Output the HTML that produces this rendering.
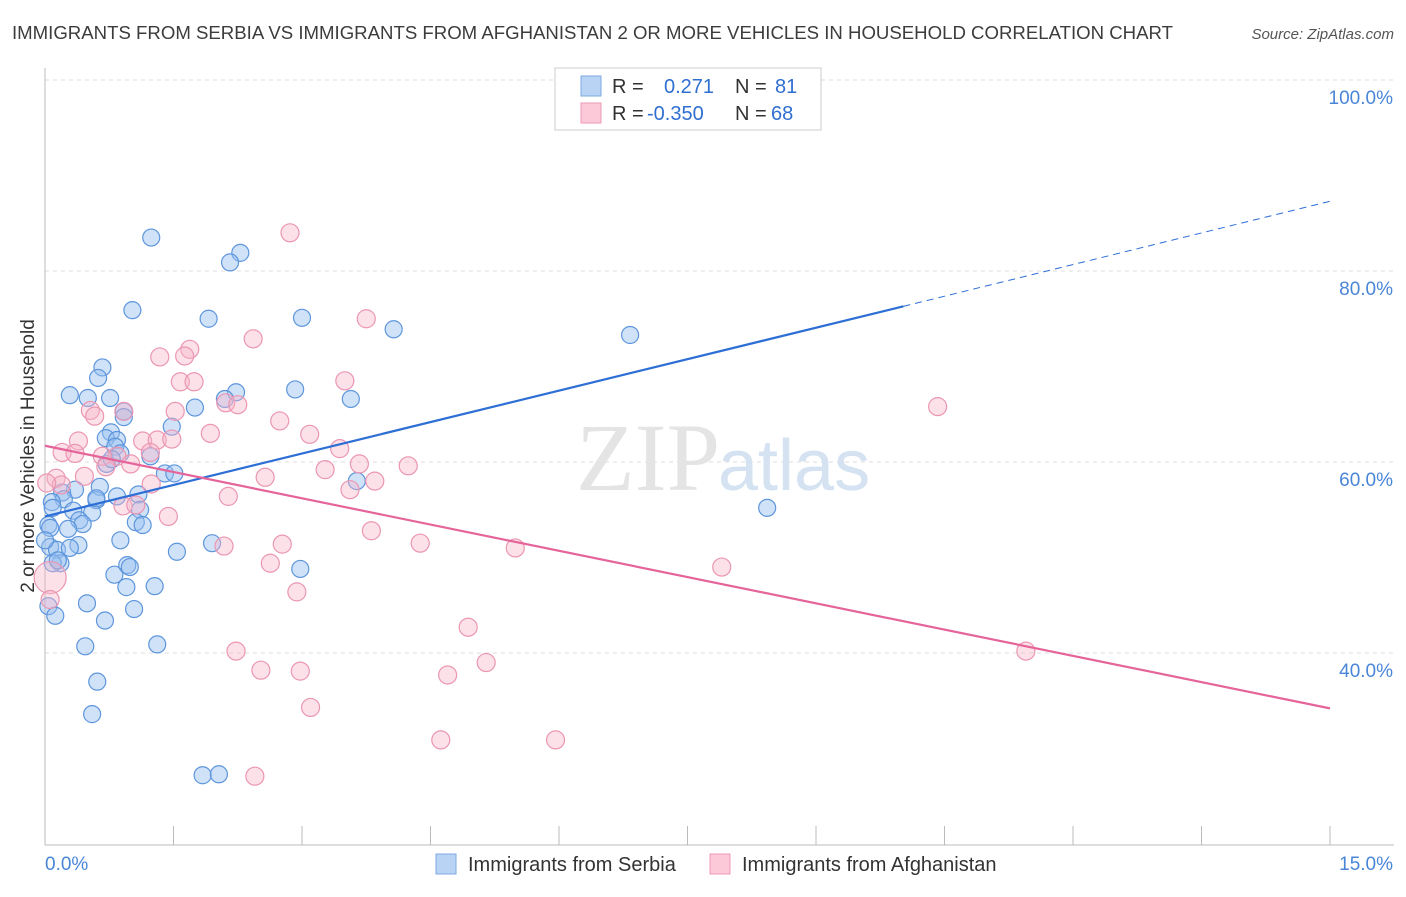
<!DOCTYPE html>
<html><head><meta charset="utf-8"><style>
body{margin:0;background:#fff;width:1406px;height:892px;overflow:hidden;font-family:"Liberation Sans",sans-serif}
</style></head><body>
<svg width="1406" height="892" viewBox="0 0 1406 892" xmlns="http://www.w3.org/2000/svg">
<text x="12" y="39" font-size="18" fill="#3c3c3c" textLength="1161" lengthAdjust="spacingAndGlyphs">IMMIGRANTS FROM SERBIA VS IMMIGRANTS FROM AFGHANISTAN 2 OR MORE VEHICLES IN HOUSEHOLD CORRELATION CHART</text>
<text x="1394" y="39" font-size="15" fill="#555" font-style="italic" text-anchor="end">Source: ZipAtlas.com</text>
<g id="grid"></g>
<text x="720" y="490" font-size="96" fill="#e4e4e4" text-anchor="end" font-family="Liberation Serif,serif">ZIP</text>
<text x="718" y="490" font-size="72" fill="#d4e2f2">atlas</text>
<g id="axes"></g>
<g id="marks"></g>
<g>
<rect x="555" y="68" width="266" height="62" fill="#fff" stroke="#ccc"/>
<rect x="581" y="76" width="20" height="20" fill="#b9d3f5" stroke="#7fa9e0"/>
<rect x="581" y="103" width="20" height="20" fill="#fbc9d7" stroke="#ee9ab4"/>
<text x="612" y="93" font-size="20" fill="#333">R = </text><text x="664" y="93" font-size="20" fill="#2f6fd0">0.271</text>
<text x="735" y="93" font-size="20" fill="#333">N = </text><text x="775" y="93" font-size="20" fill="#2f6fd0">81</text>
<text x="612" y="120" font-size="20" fill="#333">R = </text><text x="647" y="120" font-size="20" fill="#2f6fd0">-0.350</text>
<text x="735" y="120" font-size="20" fill="#333">N = </text><text x="771" y="120" font-size="20" fill="#2f6fd0">68</text>
</g>
<g>
<rect x="436" y="854" width="20" height="20" fill="#b9d3f5" stroke="#7fa9e0"/>
<text x="468" y="871" font-size="20" fill="#333">Immigrants from Serbia</text>
<rect x="710" y="854" width="20" height="20" fill="#fbc9d7" stroke="#ee9ab4"/>
<text x="742" y="871" font-size="20" fill="#333">Immigrants from Afghanistan</text>
</g>
</svg>
<script>
const NS="http://www.w3.org/2000/svg";
const yTicks=[100,80,60,40];
const yTickLabels=["100.0%","80.0%","60.0%","40.0%"];
const xTicks=[0,1.5,3,4.5,6,7.5,9,10.5,12,13.5,15];
const serbiaX=[1.24,2.28,2.16,1.02,1.91,3.00,4.07,6.83,0.67,0.62,0.29,0.50,0.76,2.23,2.92,2.10,3.57,1.75,0.92,0.92,1.48,0.77,0.71,0.84,0.82,0.88,1.23,0.72,1.40,1.51,3.64,0.64,0.35,0.20,0.22,0.60,0.08,0.84,1.09,0.09,0.33,0.55,1.11,0.40,0.44,1.06,1.14,0.27,0.04,0.88,1.95,0.39,0.06,1.54,0.14,0.29,0.18,0.96,0.99,0.81,2.98,0.95,1.28,0.49,1.04,0.04,0.12,0.70,0.47,1.31,0.61,0.55,1.84,2.03,8.43,0.06,0.09,0.60,0.15,0.78,0.00];
const serbiaY=[83.5,81.9,80.9,75.9,75.0,75.1,73.9,73.3,69.9,68.8,67.0,66.7,66.7,67.3,67.6,66.6,66.6,65.7,65.3,64.7,63.7,63.1,62.5,62.3,61.6,60.9,60.6,59.8,58.8,58.8,58.0,57.4,57.1,56.8,56.1,56.0,55.8,56.4,56.6,55.2,54.9,54.7,55.0,53.9,53.5,53.7,53.4,53.0,53.4,51.8,51.5,51.3,51.1,50.6,50.8,51.0,49.4,49.2,49.0,48.2,48.8,46.9,47.0,45.2,44.6,44.9,43.9,43.4,40.7,40.9,37.0,33.6,27.2,27.3,55.2,53.1,49.4,56.2,49.7,60.3,51.8];
const afghX=[2.86,3.75,2.43,1.69,1.34,1.63,3.50,1.58,1.74,2.11,1.52,2.25,0.53,0.92,0.58,2.74,1.93,3.09,0.39,1.14,1.31,1.48,0.20,0.35,0.84,0.67,1.23,3.44,4.24,3.67,0.71,1.00,3.27,0.13,0.46,0.19,1.24,3.85,2.57,3.56,2.14,0.91,1.06,1.44,3.81,4.38,2.77,2.09,5.49,2.63,7.90,2.94,4.94,2.23,11.45,5.15,2.52,2.98,4.70,3.10,4.62,5.96,2.45,10.42,0.06,0.02,0.06];
const afghY=[84.0,75.0,72.9,71.8,71.0,71.1,68.5,68.4,68.4,66.2,65.3,66.0,65.4,65.3,64.8,64.3,63.0,62.9,62.2,62.2,62.3,62.4,61.0,60.9,60.6,60.6,61.0,61.4,59.6,59.8,59.5,59.8,59.2,58.3,58.5,57.6,57.7,58.0,58.4,57.1,56.4,55.4,55.5,54.3,52.8,51.5,51.4,51.2,51.0,49.4,49.0,46.4,42.7,40.2,40.2,39.0,38.2,38.1,37.7,34.3,30.9,30.9,27.1,65.8,47.9,57.8,45.6];
const afghR=[9,9,9,9,9,9,9,9,9,9,9,9,9,9,9,9,9,9,9,9,9,9,9,9,9,9,9,9,9,9,9,9,9,9,9,9,9,9,9,9,9,9,9,9,9,9,9,9,9,9,9,9,9,9,9,9,9,9,9,9,9,9,9,9,16,9,9];
const serbiaTrend=[54.3,76.3,87.3];
const serbiaTrendX=[0,10.02,15];
const afghTrend=[61.7,34.2];
const afghTrendX=[0,15];
const X=v=>45+v*(1285/15);
const Y=v=>80+(100-v)*9.55;
function mk(tag,attrs,parent){const e=document.createElementNS(NS,tag);for(const k in attrs)e.setAttribute(k,attrs[k]);document.getElementById(parent).appendChild(e);return e;}
yTicks.forEach((t,i)=>{
 const l=mk('line',{x1:45,x2:1394,y1:Y(t),y2:Y(t),stroke:'#ddd','stroke-dasharray':'4,4'},'grid');
 
 
 const tx=mk('text',{x:1393,y:Y(t)+24,'font-size':19,fill:'#4a86d8','text-anchor':'end'},'axes');
 tx.textContent=yTickLabels[i];
 
 
});
const ax=mk('line',{x1:45,x2:45,y1:68,y2:845,stroke:'#bbb'},'axes');


const bx=mk('line',{x1:45,x2:1394,y1:845,y2:845,stroke:'#bbb'},'axes');


xTicks.forEach(t=>{const l=mk('line',{x1:X(t),x2:X(t),y1:826,y2:845,stroke:'#bbb'},'axes');
 
 });
const x0=mk('text',{x:45,y:870,'font-size':19,fill:'#4a86d8'},'axes');x0.textContent='0.0%';


const x1=mk('text',{x:1393,y:870,'font-size':19,fill:'#4a86d8','text-anchor':'end'},'axes');x1.textContent='15.0%';


const yt=mk('text',{x:0,y:0,'font-size':19,fill:'#333','text-anchor':'middle',transform:'translate(34,456) rotate(-90)'},'axes');yt.textContent='2 or more Vehicles in Household';


serbiaX.forEach((v,i)=>{const c=mk('circle',{cx:X(v),cy:Y(serbiaY[i]),r:8.5,fill:'rgba(150,190,240,0.45)',stroke:'#5e96dc','stroke-width':1.2},'marks');
 
 });
afghX.forEach((v,i)=>{const c=mk('circle',{cx:X(v),cy:Y(afghY[i]),r:afghR[i],fill:'rgba(248,180,200,0.4)',stroke:'#eb96b2','stroke-width':1.2},'marks');
 
 });
const t1=mk('line',{x1:X(serbiaTrendX[0]),y1:Y(serbiaTrend[0]),x2:X(serbiaTrendX[1]),y2:Y(serbiaTrend[1]),stroke:'#2e6fd6','stroke-width':2.2},'marks');


const t2=mk('line',{x1:X(serbiaTrendX[1]),y1:Y(serbiaTrend[1]),x2:X(serbiaTrendX[2]),y2:Y(serbiaTrend[2]),stroke:'#2e6fd6','stroke-width':1,'stroke-dasharray':'7,5'},'marks');


const t3=mk('line',{x1:X(afghTrendX[0]),y1:Y(afghTrend[0]),x2:X(afghTrendX[1]),y2:Y(afghTrend[1]),stroke:'#e5649a','stroke-width':2.2},'marks');


</script>
</body></html>
